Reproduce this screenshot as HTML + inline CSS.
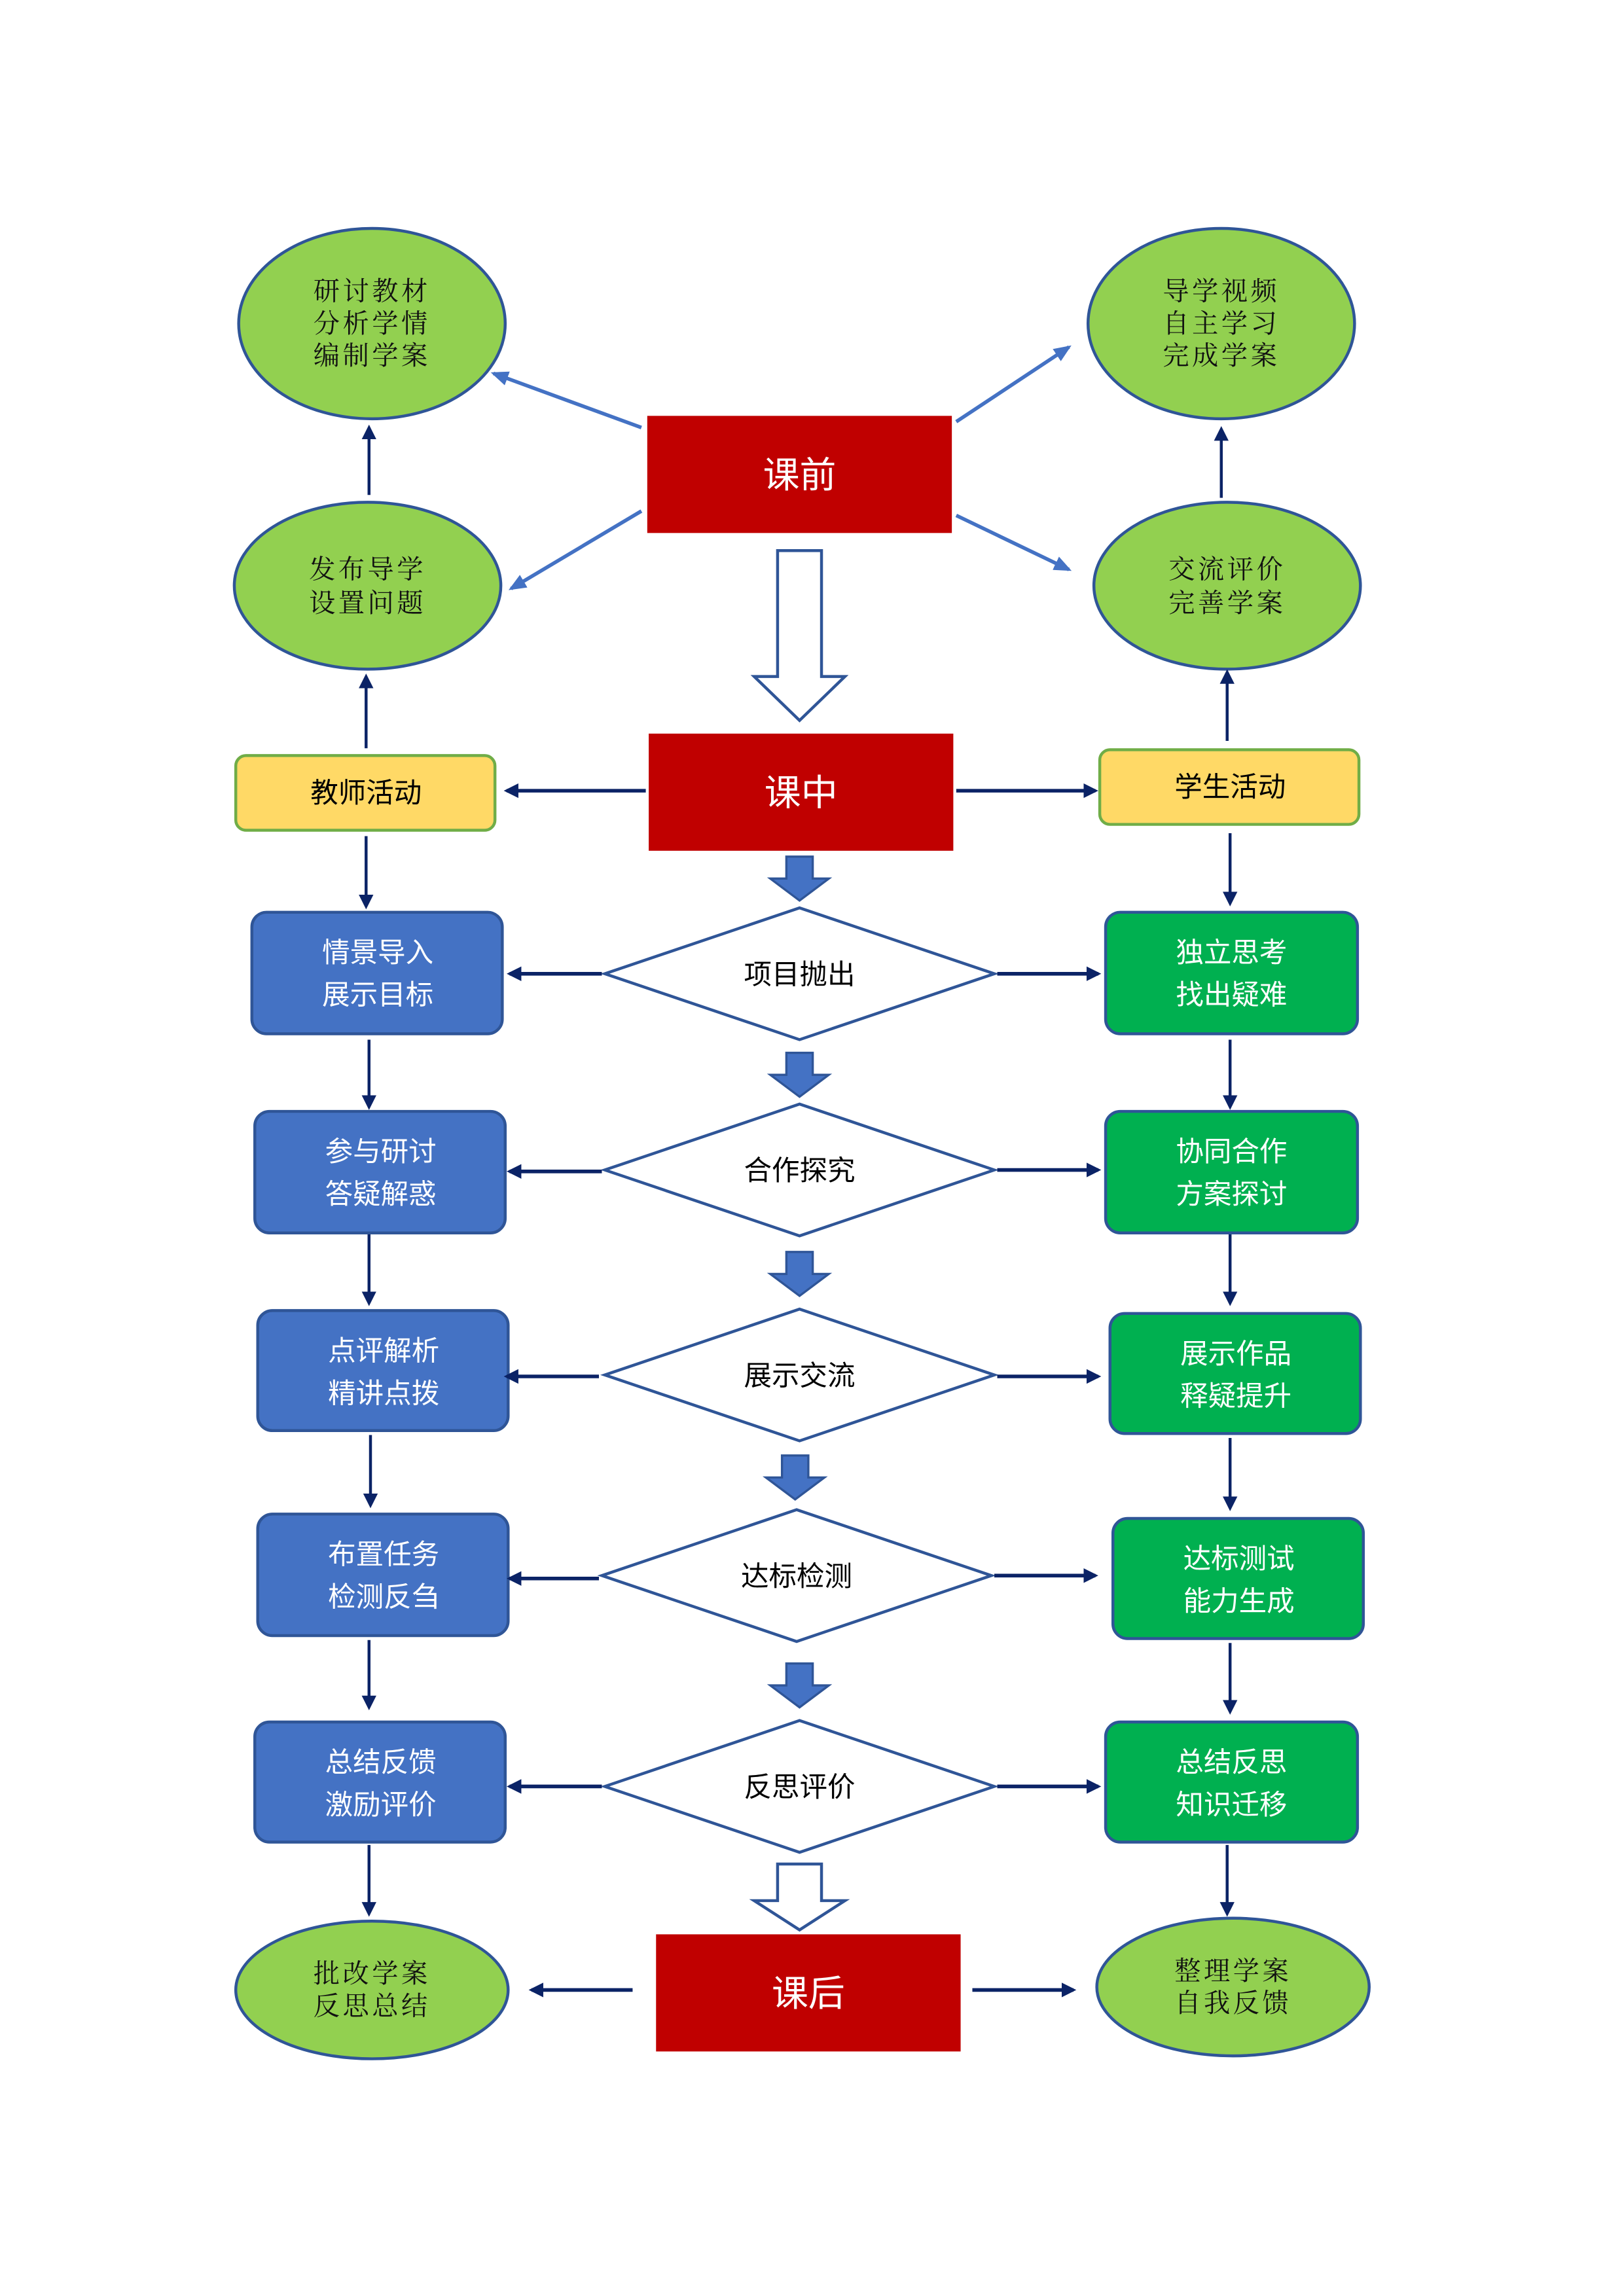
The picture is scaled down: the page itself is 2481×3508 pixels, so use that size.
<!DOCTYPE html>
<html><head><meta charset="utf-8"><style>
html,body{margin:0;padding:0;background:#fff}
svg{display:block}
.k{font-family:"Liberation Serif","Noto Serif CJK SC",serif;font-size:18px;fill:#111;text-anchor:middle;letter-spacing:2px}
.w{font-family:"Liberation Sans","Noto Sans CJK SC",sans-serif;font-size:19px;fill:#fff;text-anchor:middle}
.b{font-family:"Liberation Sans","Noto Sans CJK SC",sans-serif;font-size:19px;fill:#000;text-anchor:middle}
.r{font-family:"Liberation Sans","Noto Sans CJK SC",sans-serif;font-size:25px;fill:#fff;text-anchor:middle}
</style></head><body>
<svg width="2481" height="3508" viewBox="0 0 1109 1568" preserveAspectRatio="none" xmlns="http://www.w3.org/2000/svg">
<defs>
<marker id="m" markerWidth="10" markerHeight="10" refX="8" refY="5" orient="auto" markerUnits="userSpaceOnUse"><path d="M0,0 L10,5 L0,10 z" fill="#0b2366"/></marker>
<marker id="mb" markerWidth="12" markerHeight="10" refX="10" refY="5" orient="auto" markerUnits="userSpaceOnUse"><path d="M0,0 L12,5 L0,10 z" fill="#4472C4"/></marker>
</defs>
<g fill="#92D050" stroke="#2F5597" stroke-width="2">
<ellipse cx="254" cy="221" rx="91" ry="65"/>
<ellipse cx="834" cy="221" rx="91" ry="65"/>
<ellipse cx="251" cy="400" rx="91" ry="57"/>
<ellipse cx="838" cy="400" rx="91" ry="57"/>
<ellipse cx="254" cy="1359" rx="93" ry="47"/>
<ellipse cx="842" cy="1357" rx="93" ry="47"/>
</g>
<text class="k" x="254" y="205">研讨教材</text><text class="k" x="254" y="227">分析学情</text><text class="k" x="254" y="249">编制学案</text>
<text class="k" x="834" y="205">导学视频</text><text class="k" x="834" y="227">自主学习</text><text class="k" x="834" y="249">完成学案</text>
<text class="k" x="251" y="395">发布导学</text><text class="k" x="251" y="418">设置问题</text>
<text class="k" x="838" y="395">交流评价</text><text class="k" x="838" y="418">完善学案</text>
<text class="k" x="254" y="1354">批改学案</text><text class="k" x="254" y="1376">反思总结</text>
<text class="k" x="842" y="1352">整理学案</text><text class="k" x="842" y="1374">自我反馈</text>

<g fill="#C00000">
<rect x="442" y="284" width="208" height="80"/>
<rect x="443" y="501" width="208" height="80"/>
<rect x="448" y="1321" width="208" height="80"/>
</g>
<text class="r" x="546" y="333">课前</text>
<text class="r" x="547" y="550">课中</text>
<text class="r" x="552" y="1370">课后</text>

<g fill="#FFD966" stroke="#70AD47" stroke-width="2">
<rect x="161" y="516" width="177" height="51" rx="7"/>
<rect x="751" y="512" width="177" height="51" rx="7"/>
</g>
<text class="b" x="250" y="548">教师活动</text>
<text class="b" x="840" y="544">学生活动</text>

<g fill="#4472C4" stroke="#2F5597" stroke-width="2">
<rect x="172" y="623" width="171" height="83" rx="10"/>
<rect x="174" y="759" width="171" height="83" rx="10"/>
<rect x="176" y="895" width="171" height="82" rx="10"/>
<rect x="176" y="1034" width="171" height="83" rx="10"/>
<rect x="174" y="1176" width="171" height="82" rx="10"/>
</g>
<g fill="#00B050" stroke="#2F5597" stroke-width="2">
<rect x="755" y="623" width="172" height="83" rx="10"/>
<rect x="755" y="759" width="172" height="83" rx="10"/>
<rect x="758" y="897" width="171" height="82" rx="10"/>
<rect x="760" y="1037" width="171" height="82" rx="10"/>
<rect x="755" y="1176" width="172" height="82" rx="10"/>
</g>
<text class="w" x="258" y="657">情景导入</text><text class="w" x="258" y="686">展示目标</text>
<text class="w" x="260" y="793">参与研讨</text><text class="w" x="260" y="822">答疑解惑</text>
<text class="w" x="262" y="929">点评解析</text><text class="w" x="262" y="958">精讲点拨</text>
<text class="w" x="262" y="1068">布置任务</text><text class="w" x="262" y="1097">检测反刍</text>
<text class="w" x="260" y="1210">总结反馈</text><text class="w" x="260" y="1239">激励评价</text>
<text class="w" x="841" y="657">独立思考</text><text class="w" x="841" y="686">找出疑难</text>
<text class="w" x="841" y="793">协同合作</text><text class="w" x="841" y="822">方案探讨</text>
<text class="w" x="844" y="931">展示作品</text><text class="w" x="844" y="960">释疑提升</text>
<text class="w" x="846" y="1071">达标测试</text><text class="w" x="846" y="1100">能力生成</text>
<text class="w" x="841" y="1210">总结反思</text><text class="w" x="841" y="1239">知识迁移</text>

<g fill="#fff" stroke="#2F5597" stroke-width="2">
<polygon points="546,620 679,665 546,710 413,665"/>
<polygon points="546,754 679,799 546,844 413,799"/>
<polygon points="546,894 679,939 546,984 413,939"/>
<polygon points="544,1031 677,1076 544,1121 411,1076"/>
<polygon points="546,1175 679,1220 546,1265 413,1220"/>
<polygon points="531,376 561,376 561,462 577,462 546,492 515,462 531,462"/>
<polygon points="531,1273 561,1273 561,1298 577,1298 546,1318 515,1298 531,1298"/>
</g>
<text class="b" x="546" y="672">项目抛出</text>
<text class="b" x="546" y="806">合作探究</text>
<text class="b" x="546" y="946">展示交流</text>
<text class="b" x="544" y="1083">达标检测</text>
<text class="b" x="546" y="1227">反思评价</text>

<g fill="#4472C4" stroke="#2F5597" stroke-width="1.5">
<polygon points="537,585 555,585 555,600 566,600 546,615 526,600 537,600"/>
<polygon points="537,719 555,719 555,734 566,734 546,749 526,734 537,734"/>
<polygon points="537,855 555,855 555,870 566,870 546,885 526,870 537,870"/>
<polygon points="534,994 552,994 552,1009 563,1009 543,1024 523,1009 534,1009"/>
<polygon points="537,1136 555,1136 555,1151 566,1151 546,1166 526,1151 537,1151"/>
</g>

<g stroke="#0b2366" stroke-width="2.5" fill="none" marker-end="url(#m)">
<line x1="441" y1="540" x2="346" y2="540"/>
<line x1="653" y1="540" x2="748" y2="540"/>
<line x1="411" y1="665" x2="348" y2="665"/>
<line x1="681" y1="665" x2="750" y2="665"/>
<line x1="411" y1="800" x2="348" y2="800"/>
<line x1="681" y1="799" x2="750" y2="799"/>
<line x1="409" y1="940" x2="346" y2="940"/>
<line x1="681" y1="940" x2="750" y2="940"/>
<line x1="409" y1="1078" x2="348" y2="1078"/>
<line x1="679" y1="1076" x2="748" y2="1076"/>
<line x1="411" y1="1220" x2="348" y2="1220"/>
<line x1="681" y1="1220" x2="750" y2="1220"/>
<line x1="432" y1="1359" x2="363" y2="1359"/>
<line x1="664" y1="1359" x2="733" y2="1359"/>
</g>
<g stroke="#0b2366" stroke-width="2" fill="none" marker-end="url(#m)">
<line x1="250" y1="571" x2="250" y2="619"/>
<line x1="252" y1="710" x2="252" y2="756"/>
<line x1="252" y1="843" x2="252" y2="890"/>
<line x1="253" y1="980" x2="253" y2="1028"/>
<line x1="252" y1="1120" x2="252" y2="1166"/>
<line x1="252" y1="1260" x2="252" y2="1307"/>
<line x1="840" y1="569" x2="840" y2="617"/>
<line x1="840" y1="710" x2="840" y2="756"/>
<line x1="840" y1="843" x2="840" y2="890"/>
<line x1="840" y1="982" x2="840" y2="1030"/>
<line x1="840" y1="1122" x2="840" y2="1169"/>
<line x1="838" y1="1260" x2="838" y2="1307"/>
<line x1="252" y1="338" x2="252" y2="292"/>
<line x1="250" y1="511" x2="250" y2="462"/>
<line x1="834" y1="340" x2="834" y2="293"/>
<line x1="838" y1="506" x2="838" y2="459"/>
</g>
<g stroke="#4472C4" stroke-width="2.5" fill="none" marker-end="url(#mb)">
<line x1="438" y1="292" x2="337" y2="255"/>
<line x1="438" y1="349" x2="349" y2="402"/>
<line x1="653" y1="288" x2="730" y2="237"/>
<line x1="653" y1="352" x2="730" y2="389"/>
</g>
</svg>
</body></html>
